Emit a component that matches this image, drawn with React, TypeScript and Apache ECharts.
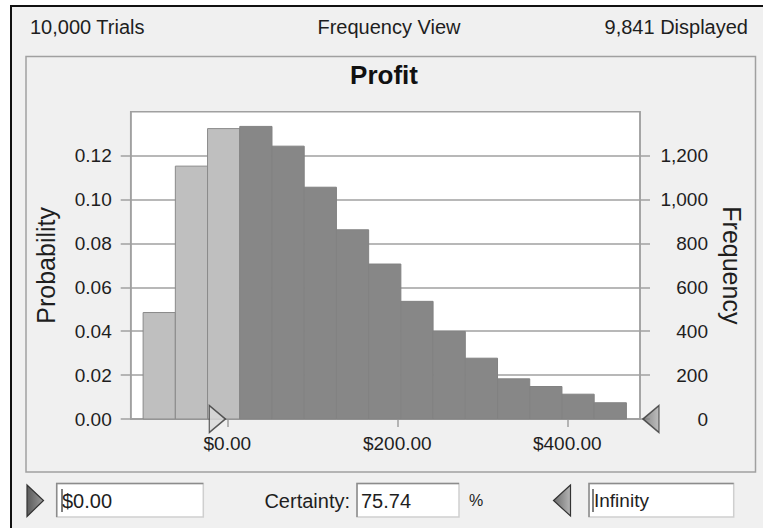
import React, { useEffect, useRef } from "react";
import * as echarts from "echarts";

// ---- data ----
const binEdges = [-99, -61.1, -23.2, 14.7, 52.6, 90.5, 128.4, 166.3, 204.2, 242.1, 280, 317.9, 355.8, 393.7, 431.6, 469.5];
const frequencies = [485, 1152, 1323, 1333, 1243, 1056, 862, 706, 536, 399, 277, 183, 148, 113, 74];
const probTicks = [0, 0.02, 0.04, 0.06, 0.08, 0.1, 0.12];
const freqTicks = [0, 200, 400, 600, 800, 1000, 1200];
const profitTicks = [0, 200, 400];
const xMin = -113.6;
const xMax = 485.5;
const probMax = 0.14;
const freqMax = 1400;
const certaintyLower = 0;
const trialsText = "10,000 Trials";
const viewText = "Frequency View";
const displayedText = "9,841 Displayed";
const chartTitle = "Profit";
const lowerText = "$0.00";
const certaintyLabel = "Certainty:";
const certaintyValue = "75.74";
const upperText = "Infinity";

const FONT = "'Liberation Sans', Arial, sans-serif";
const GRAY = "#a0a0a0";
const TXT = "#1e1e1e";

export default function App() {
  const ref = useRef<HTMLDivElement>(null);

  useEffect(() => {
    if (!ref.current) return;
    const chart = echarts.init(ref.current, null, { renderer: "svg" });

    const barData = frequencies.map((f, i) => [binEdges[i], binEdges[i + 1], f]);

    const box = (x: number, y: number, w: number, h: number) => [
      { type: "rect", z: -3, shape: { x, y, width: w, height: h }, style: { fill: "#ffffff", stroke: "#cfcfcf", lineWidth: 1.5 } },
      { type: "polyline", z: -2, shape: { points: [[x, y + h], [x, y], [x + w, y]] }, style: { stroke: "#8c8c8c", lineWidth: 1.5, fill: null } },
    ];

    const option: any = {
      animation: false,
      backgroundColor: "#ffffff",
      textStyle: { fontFamily: FONT },
      grid: {
        show: true,
        left: 130.7,
        top: 111.7,
        right: 123,
        bottom: 109,
        backgroundColor: "#ffffff",
        borderColor: GRAY,
        borderWidth: 1.5,
      },
      xAxis: {
        type: "value",
        min: xMin,
        max: xMax,
        axisLine: { show: true, onZero: false, lineStyle: { color: GRAY, width: 1.5 } },
        axisTick: { show: true, length: 8, customValues: profitTicks, lineStyle: { color: GRAY, width: 1.5 } },
        axisLabel: {
          customValues: profitTicks,
          formatter: (v: number) => "$" + v.toFixed(2),
          color: TXT,
          fontSize: 19,
          margin: 15,
          fontFamily: FONT,
        },
        splitLine: { show: false },
      },
      yAxis: [
        {
          type: "value",
          position: "left",
          min: 0,
          max: probMax,
          interval: 0.02,
          name: "Probability",
          nameLocation: "middle",
          nameGap: 72,
          nameTextStyle: { fontSize: 25, color: TXT, fontFamily: FONT },
          axisLine: { show: true, onZero: false, lineStyle: { color: GRAY, width: 1.5 } },
          axisTick: { show: true, length: 10, customValues: probTicks, lineStyle: { color: GRAY, width: 1.5 } },
          axisLabel: {
            customValues: probTicks,
            formatter: (v: number) => v.toFixed(2),
            color: TXT,
            fontSize: 19,
            margin: 19,
            fontFamily: FONT,
          },
          splitLine: { show: true, lineStyle: { color: GRAY, width: 1.5 } },
        },
        {
          type: "value",
          position: "right",
          min: 0,
          max: freqMax,
          interval: 200,
          name: "Frequency",
          nameLocation: "middle",
          nameRotate: -90,
          nameGap: 79,
          nameTextStyle: { fontSize: 25, color: TXT, fontFamily: FONT },
          axisLine: { show: true, onZero: false, lineStyle: { color: GRAY, width: 1.5 } },
          axisTick: { show: true, length: 10, customValues: freqTicks, lineStyle: { color: GRAY, width: 1.5 } },
          axisLabel: {
            customValues: freqTicks,
            formatter: (v: number) => v.toLocaleString("en-US"),
            color: TXT,
            fontSize: 19,
            margin: 68,
            align: "right",
            fontFamily: FONT,
          },
          splitLine: { show: false },
        },
      ],
      series: [
        {
          type: "custom",
          xAxisIndex: 0,
          yAxisIndex: 1,
          data: barData,
          encode: { x: [0, 1], y: 2 },
          renderItem: (params: any, api: any) => {
            const x0 = api.value(0);
            const x1 = api.value(1);
            const f = api.value(2);
            const p0 = api.coord([x0, f]);
            const p1 = api.coord([x1, 0]);
            const light = x0 < certaintyLower;
            return {
              type: "rect",
              shape: { x: p0[0], y: p0[1], width: p1[0] - p0[0], height: p1[1] - p0[1] },
              style: {
                fill: light ? "#bfbfbf" : "#878787",
                stroke: light ? "#8a8a8a" : "#828282",
                lineWidth: 1,
              },
            };
          },
          z: 3,
        },
        {
          type: "scatter",
          xAxisIndex: 0,
          yAxisIndex: 0,
          clip: false,
          z: 5,
          data: [
            {
              value: [certaintyLower, 0],
              symbol: "path://M0,0 L1,0.5 L0,1 Z",
              symbolSize: [16, 27],
              symbolOffset: [-10, 0],
              itemStyle: { color: "#dadada", borderColor: "#333333", borderWidth: 1.5 },
            },
            {
              value: [xMax, 0],
              symbol: "path://M1,0 L0,0.5 L1,1 Z",
              symbolSize: [16, 27],
              symbolOffset: [11, 0],
              itemStyle: {
                color: new echarts.graphic.LinearGradient(0, 0, 1, 0, [
                  { offset: 0, color: "#6e6e6e" },
                  { offset: 1, color: "#b0b0b0" },
                ]),
                borderColor: "#333333",
                borderWidth: 1.5,
              },
            },
          ],
        },
      ],
      graphic: {
        elements: [
          // window background + dark frame
          { type: "rect", z: -10, shape: { x: 11, y: 6, width: 752, height: 522 }, style: { fill: "#f0f0f0" } },
          { type: "line", z: -9, shape: { x1: 10, y1: 6, x2: 763, y2: 6 }, style: { stroke: "#111111", lineWidth: 2 } },
          { type: "line", z: -9, shape: { x1: 11, y1: 5, x2: 11, y2: 528 }, style: { stroke: "#111111", lineWidth: 2 } },
          // group box
          { type: "rect", z: -8, shape: { x: 26, y: 56.5, width: 729.5, height: 415.5 }, style: { fill: null, stroke: GRAY, lineWidth: 1.5 } },
          // header
          { type: "text", z: 1, x: 30, y: 26.5, style: { text: trialsText, font: `20px ${FONT}`, fill: TXT, align: "left", verticalAlign: "middle" } },
          { type: "text", z: 1, x: 389, y: 26.5, style: { text: viewText, font: `20px ${FONT}`, fill: TXT, align: "center", verticalAlign: "middle" } },
          { type: "text", z: 1, x: 748, y: 26.5, style: { text: displayedText, font: `20px ${FONT}`, fill: TXT, align: "right", verticalAlign: "middle" } },
          // title
          { type: "text", z: 1, x: 384, y: 75, style: { text: chartTitle, font: `bold 26px ${FONT}`, fill: "#111111", align: "center", verticalAlign: "middle" } },
          // bottom controls
          {
            type: "polygon", z: 1,
            shape: { points: [[27, 485], [43.5, 500.5], [27, 516.5]] },
            style: {
              fill: new echarts.graphic.LinearGradient(0, 0, 1, 0, [
                { offset: 0, color: "#5a5a5a" },
                { offset: 1, color: "#9a9a9a" },
              ]),
              stroke: "#333333", lineWidth: 1.2,
            },
          },
          ...box(56.7, 483.5, 146.6, 33.5),
          { type: "line", z: 2, shape: { x1: 62, y1: 489, x2: 62, y2: 512 }, style: { stroke: "#000000", lineWidth: 1 } },
          { type: "text", z: 2, x: 62, y: 500.5, style: { text: lowerText, font: `20px ${FONT}`, fill: TXT, align: "left", verticalAlign: "middle" } },
          { type: "text", z: 1, x: 350, y: 500.5, style: { text: certaintyLabel, font: `20px ${FONT}`, fill: TXT, align: "right", verticalAlign: "middle" } },
          ...box(357, 483.5, 102, 33.5),
          { type: "text", z: 2, x: 361, y: 500.5, style: { text: certaintyValue, font: `20px ${FONT}`, fill: TXT, align: "left", verticalAlign: "middle" } },
          { type: "text", z: 1, x: 469, y: 500.5, style: { text: "%", font: `16px ${FONT}`, fill: TXT, align: "left", verticalAlign: "middle" } },
          {
            type: "polygon", z: 1,
            shape: { points: [[570.5, 485], [553.5, 500.5], [570.5, 516]] },
            style: {
              fill: new echarts.graphic.LinearGradient(0, 0, 1, 0, [
                { offset: 0, color: "#6a6a6a" },
                { offset: 1, color: "#b5b5b5" },
              ]),
              stroke: "#333333", lineWidth: 1.2,
            },
          },
          ...box(589, 483.5, 144.7, 33.5),
          { type: "line", z: 2, shape: { x1: 593, y1: 489, x2: 593, y2: 512 }, style: { stroke: "#000000", lineWidth: 1 } },
          { type: "text", z: 2, x: 594, y: 500.5, style: { text: upperText, font: `19px ${FONT}`, fill: TXT, align: "left", verticalAlign: "middle" } },
        ],
      },
    };

    chart.setOption(option);
    return () => chart.dispose();
  }, []);

  return <div ref={ref} style={{ position: "fixed", left: 0, top: 0, width: 763, height: 528 }} />;
}
